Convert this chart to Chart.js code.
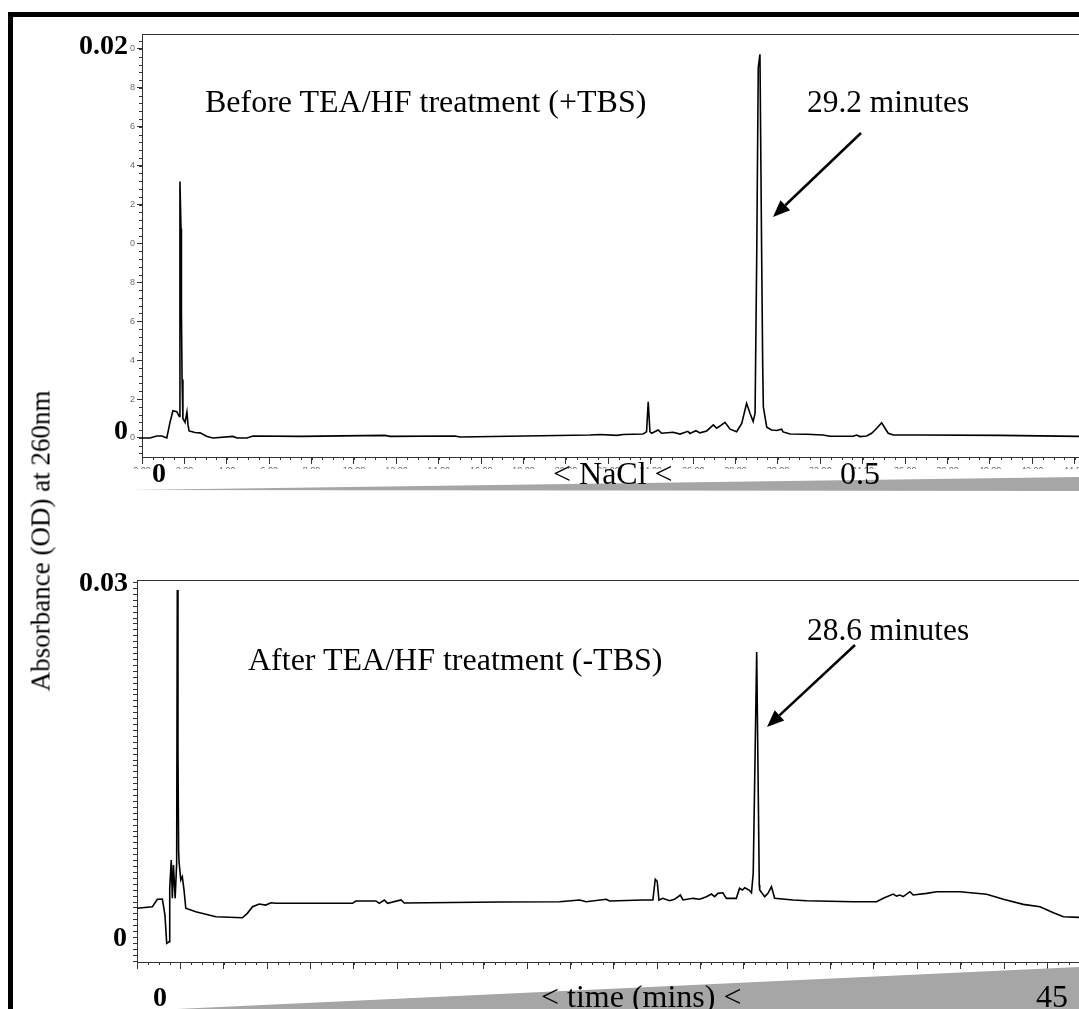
<!DOCTYPE html>
<html>
<head>
<meta charset="utf-8">
<script src="https://cdn.jsdelivr.net/npm/chart.js@4.4.0/dist/chart.umd.min.js"></script>
<style>
  html, body { margin: 0; padding: 0; background: #fff; }
  #page { position: relative; width: 1079px; height: 1009px; overflow: hidden; background: #fff;
          font-family: "Liberation Serif", "DejaVu Serif", serif; color: #000; }
  canvas { position: absolute; left: 0; top: 0; }
  .t { position: absolute; white-space: nowrap; line-height: 1; font-size: 32px; }
  .m { font-size: 31.4px; }
  .b { font-weight: bold; font-size: 28px; }
  #frameL { position: absolute; left: 8px; top: 12px; width: 5px; height: 1000px; background: #000; }
  #frameT { position: absolute; left: 8px; top: 12px; width: 1080px; height: 5px; background: #000; }
  #ytitle { position: absolute; left: 41px; top: 541px; font-size: 27px; line-height: 1; white-space: nowrap;
            transform: translate(-50%, -50%) rotate(-90deg); }
</style>
</head>
<body>
<div id="page">
  <canvas id="topChart" width="1079" height="1009"></canvas>
  <canvas id="bottomChart" width="1079" height="1009"></canvas>
  <div id="frameL"></div>
  <div id="frameT"></div>

  <div class="t b" style="left:79px; top:31px;">0.02</div>
  <div class="t b" style="left:114px; top:416px;">0</div>
  <div class="t" style="left:205px; top:85px;">Before TEA/HF treatment (+TBS)</div>
  <div class="t m" style="left:807px; top:86px;">29.2 minutes</div>
  <div class="t b" style="left:152px; top:459px;">0</div>
  <div class="t" style="left:553px; top:457px;">&lt; NaCl &lt;</div>
  <div class="t" style="left:840px; top:457px;">0.5</div>

  <div class="t b" style="left:79px; top:568px;">0.03</div>
  <div class="t" style="left:248px; top:643px;">After TEA/HF treatment (-TBS)</div>
  <div class="t m" style="left:807px; top:614px;">28.6 minutes</div>
  <div class="t b" style="left:113px; top:923px;">0</div>
  <div class="t b" style="left:153px; top:983px;">0</div>
  <div class="t" style="left:541px; top:980px;">&lt; time (mins) &lt;</div>
  <div class="t" style="left:1036px; top:980px;">45</div>

  <div id="ytitle">Absorbance (OD) at 260nm</div>
</div>
<script>
// before TEA/HF (+TBS), time in minutes, absorbance in OD
const topTime = [0, 0.38, 0.69, 0.94, 1.17, 1.32, 1.46, 1.64, 1.76, 1.79,
  1.84, 1.86, 1.89, 1.93, 2.03, 2.12, 2.17, 2.22, 2.50, 2.74,
  3.07, 3.35, 4.29, 4.48, 4.95, 5.24, 7.45, 11.46, 11.70, 14.76,
  15.00, 21.13, 21.60, 22.41, 22.69, 23.63, 23.80, 23.88, 23.96, 24.04,
  24.35, 24.51, 25.05, 25.38, 25.75, 25.85, 26.13, 26.32, 26.64, 26.95,
  27.11, 27.34, 27.50, 27.74, 28.05, 28.29, 28.52, 28.68, 28.83, 28.92,
  29.00, 29.07, 29.15, 29.23, 29.28, 29.31, 29.47, 29.70, 29.94, 30.17,
  30.24, 30.57, 31.35, 32.12, 32.45, 33.55, 33.71, 33.87, 34.18, 34.42,
  34.66, 34.89, 35.05, 35.20, 35.44, 36.70, 40.47, 44.20];
const topAbs = [0, 0, 0.0001, 0.0001, 0, 0.0008, 0.0014, 0.00135, 0.0011, 0.01318,
  0.01077, 0.00656, 0.0030, 0.0010, 0.0008, 0.00133, 0.00067, 0.00036, 0.00028, 0.00026,
  0.00007, 0, 0.00008, 0, 0, 0.0001, 0.00008, 0.00013, 0.00008, 0.0001,
  0.00005, 0.00015, 0.00018, 0.00013, 0.00018, 0.0002, 0.00032, 0.00186, 0.00032, 0.00024,
  0.00041, 0.00024, 0.00029, 0.0002, 0.00034, 0.00023, 0.00037, 0.00026, 0.00036, 0.00067,
  0.0005, 0.00067, 0.0008, 0.00045, 0.00032, 0.00075, 0.00178, 0.00127, 0.00084, 0.00127,
  0.00964, 0.01904, 0.01973, 0.00949, 0.00366, 0.0016, 0.00055, 0.00041, 0.00038, 0.00045,
  0.00031, 0.0002, 0.00019, 0.00015, 0.00009, 0.00009, 0.00015, 0.00007, 0.0001, 0.00024,
  0.0005, 0.00078, 0.0005, 0.00024, 0.00015, 0.00015, 0.00013, 0.00008];

// after TEA/HF (-TBS)
const bottomTime = [0, 0.71, 0.94, 1.17, 1.29, 1.37, 1.48, 1.51, 1.58, 1.63,
  1.68, 1.76, 1.83, 1.86, 1.89, 1.92, 1.94, 2.02, 2.09, 2.17,
  2.25, 2.71, 3.64, 4.86, 5.09, 5.33, 5.64, 5.94, 6.18, 6.41,
  9.94, 10.10, 11.03, 11.18, 11.41, 11.56, 12.18, 12.33, 16.72, 19.49,
  20.42, 20.72, 21.65, 21.80, 23.34, 23.80, 23.91, 24.00, 24.08, 24.26,
  24.57, 24.80, 25.07, 25.19, 25.65, 25.96, 26.27, 26.50, 26.65, 26.80,
  27.03, 27.19, 27.65, 27.80, 27.93, 28.04, 28.24, 28.35, 28.43, 28.59,
  28.71, 28.73, 28.96, 29.11, 29.27, 29.42, 30.27, 30.89, 33.04, 34.12,
  34.43, 34.89, 35.04, 35.20, 35.35, 35.66, 35.81, 36.43, 36.89, 37.97,
  39.20, 39.97, 40.89, 41.66, 42.28, 42.74, 43.46];
const bottomAbs = [0.00243, 0.00256, 0.00319, 0.00321, 0.00186, -0.00053, -0.00040, 0.00412, 0.00651, 0.00327,
  0.00608, 0.00327, 0.00623, 0.02932, 0.01552, 0.00735, 0.00636, 0.00482, 0.00510, 0.00397,
  0.00243, 0.00214, 0.00172, 0.00163, 0.00200, 0.00256, 0.00279, 0.00270, 0.00290, 0.00285,
  0.00285, 0.00304, 0.00304, 0.00285, 0.00313, 0.00285, 0.00313, 0.00287, 0.00296, 0.00298,
  0.00313, 0.00298, 0.00319, 0.00304, 0.00313, 0.00313, 0.00488, 0.00471, 0.00313, 0.00327,
  0.00307, 0.00319, 0.00355, 0.00313, 0.00327, 0.00319, 0.00341, 0.00363, 0.00341, 0.00369,
  0.00374, 0.00327, 0.00327, 0.00412, 0.00397, 0.00417, 0.00397, 0.00374, 0.00538, 0.02409,
  0.00439, 0.00397, 0.00341, 0.00369, 0.00425, 0.00327, 0.00313, 0.00307, 0.00298, 0.00298,
  0.00327, 0.00363, 0.00346, 0.00355, 0.00341, 0.00383, 0.00355, 0.00369, 0.00383, 0.00383,
  0.00361, 0.00319, 0.00276, 0.00256, 0.00205, 0.00172, 0.00166];

const topXTicks = [0, 2, 4, 6, 8, 10, 12, 14, 16, 18, 20, 22, 24, 26, 28, 30, 32, 34, 36, 38, 40, 42, 44];
const topXTickLabels = ['0.00', '2.00', '4.00', '6.00', '8.00', '10.00', '12.00', '14.00', '16.00', '18.00', '20.00',
  '22.00', '24.00', '26.00', '28.00', '30.00', '32.00', '34.00', '36.00', '38.00', '40.00', '42.00', '44.00'];
const topYTicks = [0, 0.002, 0.004, 0.006, 0.008, 0.010, 0.012, 0.014, 0.016, 0.018, 0.020];
const topYTickLabels = ['0', '2', '4', '6', '8', '0', '2', '4', '6', '8', '0'];
const bottomXTicks = [0, 2, 4, 6, 8, 10, 12, 14, 16, 18, 20, 22, 24, 26, 28, 30, 32, 34, 36, 38, 40, 42];

const AXIS = '#333';

// small ticks between the labelled ones
const minorTicks = {
  id: 'minorTicks',
  afterDraw(chart, args, opts) {
    const ctx = chart.ctx;
    ctx.save();
    ctx.strokeStyle = AXIS;
    ctx.lineWidth = 1;
    (opts.list || []).forEach(m => {
      const s = chart.scales[m.axis];
      const k0 = Math.ceil(s.min / m.step - 1e-6), k1 = Math.floor(s.max / m.step + 1e-6);
      for (let k = k0; k <= k1; k++) {
        const p = Math.round(s.getPixelForValue(k * m.step)) + 0.5;
        ctx.beginPath();
        if (m.axis === 'x') { ctx.moveTo(p, s.top); ctx.lineTo(p, s.top + m.len); }
        else { ctx.moveTo(s.right, p); ctx.lineTo(s.right - m.len, p); }
        ctx.stroke();
      }
    });
    ctx.restore();
  }
};

// frame top line, clipped tick labels, salt/time gradient wedge, peak arrow
const decor = {
  id: 'decor',
  afterDraw(chart, args, o) {
    const ctx = chart.ctx, a = chart.chartArea;
    ctx.save();
    ctx.strokeStyle = AXIS;
    ctx.lineWidth = 1;
    ctx.beginPath();
    ctx.moveTo(a.left, Math.round(a.top) + 0.5);
    ctx.lineTo(a.right, Math.round(a.top) + 0.5);
    ctx.stroke();
    if (o.mask) {
      ctx.fillStyle = '#fff';
      ctx.fillRect(o.mask[0], o.mask[1], o.mask[2], o.mask[3]);
    }
    ctx.fillStyle = '#a6a6a6';
    ctx.beginPath();
    o.wedge.forEach((p, i) => i ? ctx.lineTo(p[0], p[1]) : ctx.moveTo(p[0], p[1]));
    ctx.closePath();
    ctx.fill();
    const [x0, y0, x1, y1] = o.arrow;
    const ang = Math.atan2(y1 - y0, x1 - x0), hl = 17, hw = 7;
    const bx = x1 - hl * Math.cos(ang), by = y1 - hl * Math.sin(ang);
    ctx.strokeStyle = '#000';
    ctx.lineWidth = 2.5;
    ctx.beginPath();
    ctx.moveTo(x0, y0);
    ctx.lineTo(bx, by);
    ctx.stroke();
    ctx.fillStyle = '#000';
    ctx.beginPath();
    ctx.moveTo(x1, y1);
    ctx.lineTo(bx + hw * Math.sin(ang), by - hw * Math.cos(ang));
    ctx.lineTo(bx - hw * Math.sin(ang), by + hw * Math.cos(ang));
    ctx.closePath();
    ctx.fill();
    ctx.restore();
  }
};

function traceDataset(xs, ys) {
  return {
    data: xs.map((x, i) => ({ x: x, y: ys[i] })),
    borderColor: '#000',
    borderWidth: 1.6,
    pointRadius: 0,
    tension: 0,
    fill: false
  };
}

// keep the plot running to the right edge even with edge labels
function fixX(h) {
  return s => { s.height = h; s.paddingLeft = 0; s.paddingRight = 0; };
}

const tickFont = { family: 'Arial, "Liberation Sans", sans-serif', size: 9 };

new Chart(document.getElementById('topChart'), {
  type: 'line',
  data: { datasets: [traceDataset(topTime, topAbs)] },
  options: {
    responsive: false,
    animation: false,
    events: [],
    layout: { autoPadding: false, padding: { top: 34, left: 0, right: 0, bottom: 532 } },
    plugins: {
      legend: { display: false },
      tooltip: { enabled: false },
      minorTicks: { list: [{ axis: 'x', step: 0.5, len: 3 }, { axis: 'y', step: 0.0004, len: 3 }] },
      decor: {
        mask: [90, 469, 989, 8],
        wedge: [[130, 490], [1079, 477], [1079, 491]],
        arrow: [861, 133, 773, 217]
      }
    },
    scales: {
      x: {
        type: 'linear', min: 0, max: 44.2,
        afterBuildTicks: s => { s.ticks = topXTicks.map(v => ({ value: v })); },
        afterFit: fixX(20),
        ticks: { autoSkip: false, maxRotation: 0, font: tickFont, color: '#6b6b6b', padding: 1,
                 callback: (v, i) => topXTickLabels[i] },
        grid: { drawOnChartArea: false, tickLength: 7, color: AXIS },
        border: { color: AXIS, width: 1 }
      },
      y: {
        type: 'linear', min: -0.00098, max: 0.02077,
        afterBuildTicks: s => { s.ticks = topYTicks.map(v => ({ value: v })); },
        afterFit: s => { s.width = 142; s.paddingTop = 0; s.paddingBottom = 0; },
        ticks: { autoSkip: false, font: tickFont, color: '#6b6b6b', padding: 2,
                 callback: (v, i) => topYTickLabels[i] },
        grid: { drawOnChartArea: false, tickLength: 5, color: AXIS },
        border: { color: AXIS, width: 1 }
      }
    }
  },
  plugins: [minorTicks, decor]
});

new Chart(document.getElementById('bottomChart'), {
  type: 'line',
  data: { datasets: [traceDataset(bottomTime, bottomAbs)] },
  options: {
    responsive: false,
    animation: false,
    events: [],
    layout: { autoPadding: false, padding: { top: 580, left: 0, right: 0, bottom: 37 } },
    plugins: {
      legend: { display: false },
      tooltip: { enabled: false },
      minorTicks: { list: [{ axis: 'x', step: 0.5, len: 3 }, { axis: 'y', step: 0.0005, len: 4 }] },
      decor: {
        wedge: [[177, 1009], [1079, 967], [1079, 1009]],
        arrow: [855, 645, 767, 727]
      }
    },
    scales: {
      x: {
        type: 'linear', min: 0, max: 43.46,
        afterBuildTicks: s => { s.ticks = bottomXTicks.map(v => ({ value: v })); },
        afterFit: fixX(10),
        ticks: { display: false, autoSkip: false },
        grid: { drawOnChartArea: false, tickLength: 7, color: AXIS },
        border: { color: AXIS, width: 1 }
      },
      y: {
        type: 'linear', min: -0.00211, max: 0.03017,
        afterFit: s => { s.width = 137; },
        ticks: { display: false },
        grid: { display: false },
        border: { display: true, color: AXIS, width: 1 }
      }
    }
  },
  plugins: [minorTicks, decor]
});
</script>
</body>
</html>
